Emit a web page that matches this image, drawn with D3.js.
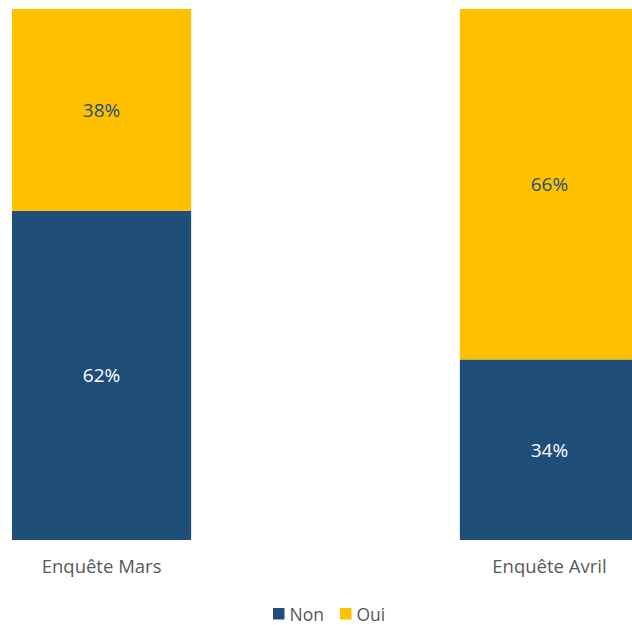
<!DOCTYPE html>
<html>
<head>
<meta charset="utf-8">
<script src="https://cdn.jsdelivr.net/npm/d3@7"></script>
<style>
  html, body { margin: 0; padding: 0; background: #fff; }
  svg { display: block; font-family: "Open Sans", sans-serif; }
</style>
</head>
<body>
<svg id="chart" width="632" height="625"></svg>
<script>
// Survey results, share of answers per survey
const categories = ["Enquête Mars", "Enquête Avril"];
const seriesNames = ["Non", "Oui"];
const nonValues = [62, 34];
const ouiValues = [38, 66];
const colors = ["#1F4E79", "#FFC000"];
const labelColors = ["#ffffff", "#1F4E79"];

const rows = categories.map((c, i) => ({ cat: c, Non: nonValues[i], Oui: ouiValues[i] }));
const stacked = d3.stack().keys(seriesNames)(rows);

const svg = d3.select("#chart");

const x = d3.scaleBand()
  .domain(categories)
  .range([12, 639])
  .paddingInner(0.6)
  .paddingOuter(0);

const y = d3.scaleLinear()
  .domain([0, 100])
  .range([540, 9]);

const color = d3.scaleOrdinal().domain(seriesNames).range(colors);
const labelColor = d3.scaleOrdinal().domain(seriesNames).range(labelColors);

const layers = svg.append("g")
  .selectAll("g")
  .data(stacked)
  .join("g")
  .attr("fill", d => color(d.key));

layers.selectAll("rect")
  .data(d => d.map(p => ({ key: d.key, p })))
  .join("rect")
  .attr("x", d => x(d.p.data.cat))
  .attr("width", x.bandwidth())
  .attr("y", d => y(d.p[1]))
  .attr("height", d => y(d.p[0]) - y(d.p[1]));

// value labels centred in each segment
svg.append("g")
  .selectAll("g")
  .data(stacked)
  .join("g")
  .selectAll("text")
  .data(d => d.map(p => ({ key: d.key, p })))
  .join("text")
  .attr("x", d => x(d.p.data.cat) + x.bandwidth() / 2)
  .attr("y", d => (y(d.p[0]) + y(d.p[1])) / 2)
  .attr("text-anchor", "middle")
  .attr("dominant-baseline", "central")
  .attr("font-size", 19)
  .attr("fill", d => labelColor(d.key))
  .text(d => (d.p[1] - d.p[0]) + "%");

// category axis, no line or ticks
const xAxis = svg.append("g")
  .attr("transform", "translate(0,540)")
  .call(d3.axisBottom(x).tickSize(0).tickPadding(20));
xAxis.select(".domain").remove();
xAxis.selectAll("text")
  .attr("font-family", "Open Sans, sans-serif")
  .attr("font-size", 18.5)
  .attr("fill", "#595959");

// legend
const legend = svg.append("g").attr("transform", "translate(273,614)");
const legendX = [0, 67];
const items = legend.selectAll("g")
  .data(seriesNames)
  .join("g")
  .attr("transform", (d, i) => `translate(${legendX[i]},0)`);
items.append("rect")
  .attr("x", 0).attr("y", -6)
  .attr("width", 11.5).attr("height", 11.5)
  .attr("fill", d => color(d));
items.append("text")
  .attr("x", 16.5).attr("y", 0)
  .attr("dominant-baseline", "central")
  .attr("font-size", 17.5)
  .attr("fill", "#595959")
  .text(d => d);
</script>
</body>
</html>
